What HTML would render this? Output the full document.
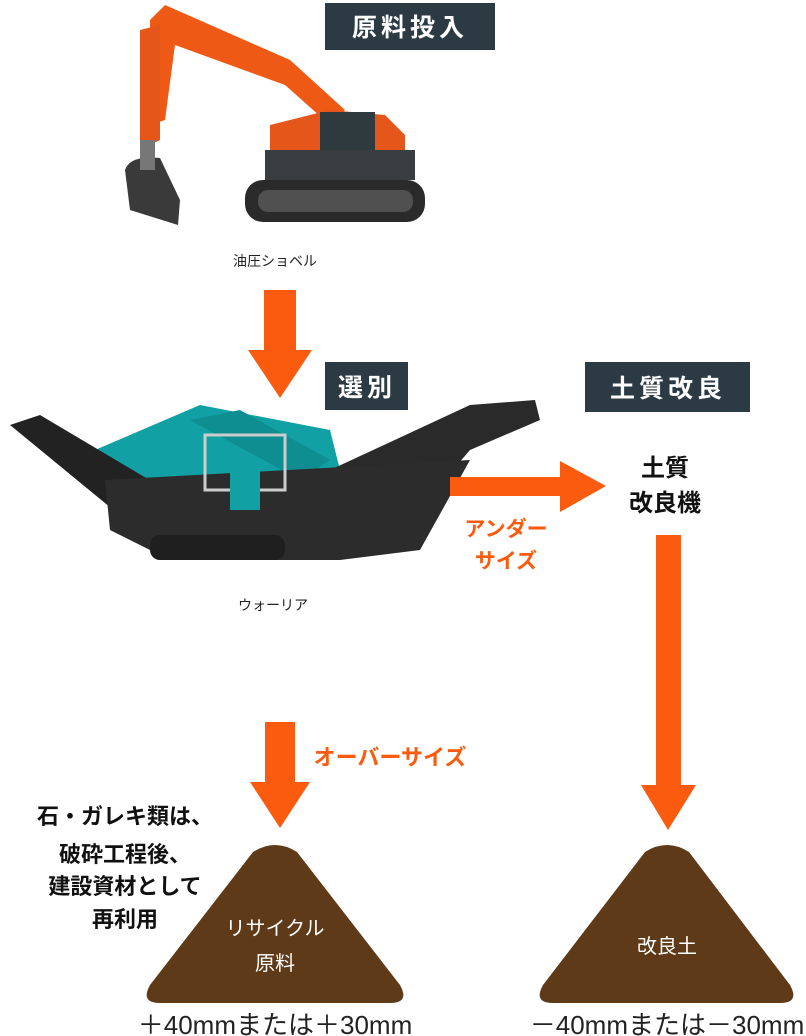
<!DOCTYPE html>
<html><head><meta charset="utf-8"><style>
body{margin:0;background:#fff}
svg{display:block}
text{font-family:"Liberation Sans","Noto Sans CJK JP",sans-serif}
</style></head><body>
<svg width="806" height="1036" viewBox="0 0 806 1036" xmlns="http://www.w3.org/2000/svg">
<rect x="325" y="3" width="170" height="47" fill="#2c3a44"/>
<text x="410" y="36" fill="#fff" font-size="25" font-weight="bold" text-anchor="middle" letter-spacing="4">原料投入</text>
<rect x="325" y="362" width="83" height="48" fill="#2c3a44"/>
<text x="367" y="396" fill="#fff" font-size="25" font-weight="bold" text-anchor="middle" letter-spacing="4">選別</text>
<rect x="585" y="362" width="165" height="50" fill="#2c3a44"/>
<text x="668" y="397" fill="#fff" font-size="25" font-weight="bold" text-anchor="middle" letter-spacing="4">土質改良</text>

<g>
<polygon points="150,20 165,5 290,60 345,110 330,125 285,85 175,45 165,120 150,125" fill="#ee5a16"/>
<polygon points="140,30 160,25 160,140 140,150" fill="#e4561a"/>
<path d="M125,170 Q130,155 160,158 L180,200 L178,225 L130,210 Z" fill="#3a3a3a"/>
<rect x="140" y="140" width="15" height="30" fill="#777"/>
<polygon points="270,125 330,110 385,115 405,135 405,175 290,180 270,160" fill="#e4561a"/>
<rect x="320" y="112" width="55" height="50" fill="#2f3a3e"/>
<rect x="265" y="150" width="150" height="30" fill="#3a3d40"/>
<rect x="245" y="180" width="180" height="42" rx="18" fill="#2a2a2a"/>
<rect x="258" y="190" width="155" height="22" rx="10" fill="#505050"/>
</g>
<text x="275" y="266" font-size="14" text-anchor="middle" fill="#222">油圧ショベル</text>

<rect x="264" y="290" width="32" height="60" fill="#fa5b0f"/>
<polygon points="248,350 312,350 280,398" fill="#fa5b0f"/>

<g>
<polygon points="95,450 200,405 330,430 340,470 270,520 150,500" fill="#11a0a4"/>
<polygon points="190,420 240,410 330,460 300,480" fill="#0f8e92"/>
<polygon points="10,425 40,415 200,510 190,540 150,540" fill="#222"/>
<polygon points="330,470 470,405 535,400 540,420 470,450 410,520 360,540" fill="#2a2a2a"/>
<polygon points="105,480 470,460 420,550 340,560 170,560 110,530" fill="#2c2c2c"/>
<rect x="150" y="535" width="135" height="25" rx="10" fill="#1f1f1f"/>
<rect x="205" y="435" width="80" height="55" fill="none" stroke="#ccc" stroke-width="3"/>
<rect x="230" y="465" width="30" height="45" fill="#11a0a4"/>
</g>
<text x="273" y="610" font-size="14" text-anchor="middle" fill="#222">ウォーリア</text>

<rect x="450" y="477" width="112" height="19" fill="#fa5b0f"/>
<polygon points="560,461 606,486 560,512" fill="#fa5b0f"/>
<text x="506" y="536" font-size="21" font-weight="bold" fill="#fa5b0f" text-anchor="middle">アンダー</text>
<text x="506" y="568" font-size="21" font-weight="bold" fill="#fa5b0f" text-anchor="middle">サイズ</text>
<text x="665" y="476" font-size="24" font-weight="bold" fill="#111" text-anchor="middle">土質</text>
<text x="665" y="511" font-size="24" font-weight="bold" fill="#111" text-anchor="middle">改良機</text>

<rect x="656" y="535" width="25" height="250" fill="#fa5b0f"/>
<polygon points="641,785 696,785 668,830" fill="#fa5b0f"/>

<rect x="265" y="722" width="30" height="60" fill="#fa5b0f"/>
<polygon points="250,782 310,782 280,828" fill="#fa5b0f"/>
<text x="390" y="765" font-size="22" font-weight="bold" fill="#fa5b0f" text-anchor="middle">オーバーサイズ</text>

<text x="125" y="824" font-size="22" font-weight="bold" fill="#111" text-anchor="middle">石・ガレキ類は、</text>
<text x="125" y="862" font-size="22" font-weight="bold" fill="#111" text-anchor="middle">破砕工程後、</text>
<text x="125" y="894" font-size="22" font-weight="bold" fill="#111" text-anchor="middle">建設資材として</text>
<text x="125" y="927" font-size="22" font-weight="bold" fill="#111" text-anchor="middle">再利用</text>

<path d="M253,852 Q275,838 297,852 L400,985 Q410,1003 390,1003 L160,1003 Q140,1003 150,985 Z" fill="#5e3a18"/>
<path d="M645,852 Q667,838 689,852 L790,985 Q800,1003 780,1003 L553,1003 Q533,1003 543,985 Z" fill="#5e3a18"/>
<text x="275" y="935" font-size="20" fill="#fff" text-anchor="middle">リサイクル</text>
<text x="275" y="970" font-size="20" fill="#fff" text-anchor="middle">原料</text>
<text x="667" y="953" font-size="20" fill="#fff" text-anchor="middle">改良土</text>

<text x="275" y="1034" font-size="26" fill="#222" text-anchor="middle">＋40mmまたは＋30mm</text>
<text x="667" y="1034" font-size="26" fill="#222" text-anchor="middle">－40mmまたは－30mm</text>
</svg>
</body></html>
